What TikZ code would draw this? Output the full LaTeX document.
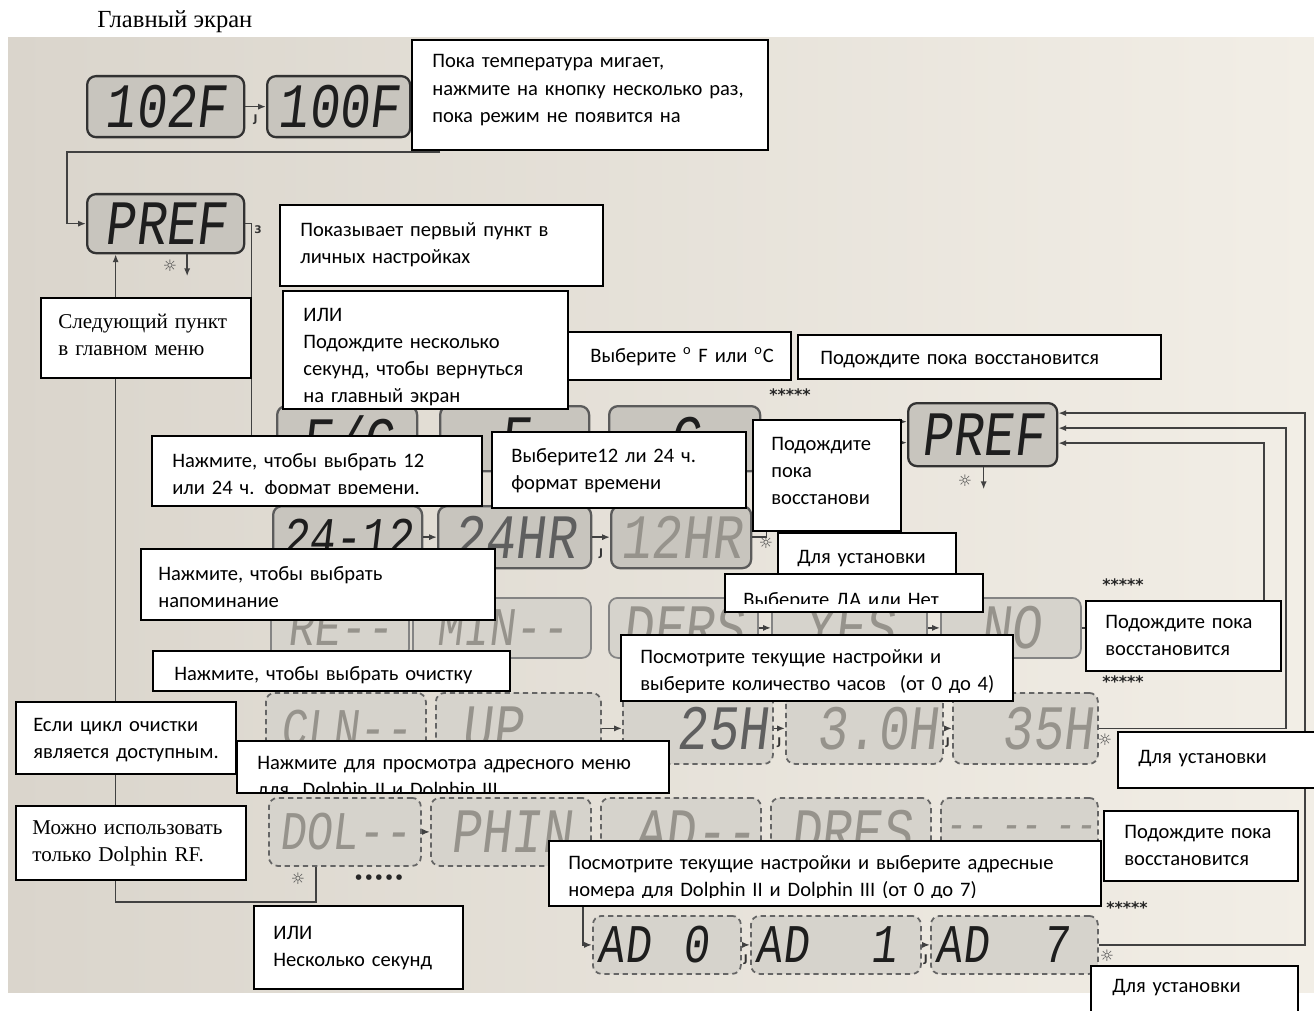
\documentclass[tikz,border=0pt]{standalone}
\usepackage{fontspec}
\setmainfont{Liberation Serif}
\newfontfamily\calibri{Carlito}
\newfontfamily\lcdfont[FakeSlant=0.12,FakeStretch=0.8]{Liberation Mono}
\newfontfamily\symfont{DejaVu Sans}
\usetikzlibrary{arrows.meta}
\definecolor{paper}{RGB}{242,238,230}
\definecolor{paperdark}{RGB}{218,213,204}
\definecolor{lcdgray}{RGB}{200,197,190}
\definecolor{lcdpale}{RGB}{214,211,204}
\definecolor{lcdedge}{RGB}{50,50,50}
\definecolor{segdark}{RGB}{30,30,30}
\definecolor{segmid}{RGB}{95,95,95}
\definecolor{segpale}{RGB}{150,147,140}
\definecolor{wirecol}{RGB}{65,65,65}
\newcommand{\notefont}{\calibri\fontsize{11.7}{15.5}\selectfont}

% display panel: name, x1, y1, x2, y2, extra style, text
\newcommand{\lcdpanel}[7]{%
  \pgfmathsetmacro\panelw{(#4-#2)*0.02}%
  \pgfmathsetmacro\panelh{(#5-#3)*0.02}%
  \pgfmathsetmacro\paneltw{(#4-#2)*0.02-0.2}%
  \node[lcd, #6, minimum width=\panelw cm, minimum height=\panelh cm, text width=\paneltw cm, anchor=north west] (#1) at (#2,#3) {#7};}

% text box: name, x1, y1, x2, y2, text x, first baseline, lowest visible y, text
\newcommand{\callout}[9]{%
  \pgfmathsetmacro\notew{(#4-#2)*0.02}%
  \pgfmathsetmacro\noteh{(#5-#3)*0.02}%
  \pgfmathsetmacro\notetw{(#4-#6)*0.02}%
  \node[note, minimum width=\notew cm, minimum height=\noteh cm, anchor=north west] (#1) at (#2,#3) {};
  \begin{scope}
    \clip (#1.north west) rectangle (#4,#8);
    \node[notetext, text width=\notetw cm] (#1-text) at (#6,#7) {#9};
  \end{scope}}

\begin{document}
\begin{tikzpicture}[x=0.02cm, y=-0.02cm,
    lcd/.style={draw=lcdedge, line width=1.3pt, rounded corners=5pt, fill=lcdgray, inner xsep=0.1cm, inner ysep=0pt, text=segdark, align=center, font=\lcdfont\fontsize{36}{36}\selectfont},
    lcdlight/.style={draw=lcdedge!60, line width=1pt, fill=lcdpale, text=segpale},
    lcddash/.style={draw=lcdedge!75, line width=1pt, dash pattern=on 3pt off 2.2pt, fill=lcdpale, text=segpale},
    small/.style={font=\lcdfont\fontsize{31}{31}\selectfont},
    note/.style={draw=black, line width=0.9pt, fill=white, inner sep=0pt},
    notetext/.style={anchor=base west, inner sep=0pt, align=left, font=\notefont},
    conn/.style={draw=wirecol, line width=0.9pt, -{Latex[length=4.5pt,width=3.5pt]}},
    btnlbl/.style={font=\symfont\bfseries\fontsize{6}{6}\selectfont, text=black!80, inner sep=1pt},
    lamp/.style={font=\symfont\fontsize{9}{9}\selectfont, text=black!70, inner sep=0pt},
    stars/.style={font=\symfont\bfseries\fontsize{9}{9}\selectfont, text=black!85, inner sep=0pt}]
    \useasboundingbox (0,0) rectangle (1314,1010);
    \shade[left color=paperdark, right color=paper] (8,38) rectangle (1314,992);
    \node[anchor=base west, inner sep=0pt, font=\rmfamily\fontsize{14}{14}\selectfont] (title) at (97,28) {Главный экран};

    % Nodes
    \lcdpanel{t102}{86}{75}{243}{136}{}{102F}
    \lcdpanel{t100}{266}{75}{409}{136}{}{100F}
    \lcdpanel{pref}{86}{193}{243}{252}{}{PREF}
    \lcdpanel{fc}{276}{405}{416}{470}{draw=lcdedge!80}{F/C}
    \lcdpanel{degf}{439}{405}{588}{470}{draw=lcdedge!80}{F}
    \lcdpanel{degc}{608}{405}{759}{470}{draw=lcdedge!80}{C}
    \lcdpanel{pref2}{907}{402}{1056}{465}{}{PREF}
    \lcdpanel{hsel}{272}{505}{421}{567}{draw=lcdedge!80, small}{\mbox{24-12}}
    \lcdpanel{hr24}{437}{505}{590}{567}{draw=lcdedge!80, text=segmid}{24HR}
    \lcdpanel{hr12}{610}{505}{750}{567}{draw=lcdedge!80, text=segpale}{12HR}
    \lcdpanel{rem1}{270}{597}{408}{657}{lcdlight, small}{\mbox{RE-{}-}}
    \lcdpanel{rem2}{412}{597}{590}{657}{lcdlight, small}{\mbox{MIN-{}-}}
    \lcdpanel{rem3}{608}{597}{757}{657}{lcdlight}{DERS}
    \lcdpanel{yes}{771}{597}{926}{657}{lcdlight}{YES}
    \lcdpanel{no}{940}{597}{1080}{657}{lcdlight}{NO}
    \lcdpanel{cln}{265}{692}{425}{763}{lcddash, small}{\mbox{CLN-{}-}}
    \lcdpanel{up}{435}{692}{600}{763}{lcddash, align=left}{\ UP}
    \lcdpanel{h25}{622}{692}{772}{763}{lcddash, align=right, text=segmid}{25H}
    \lcdpanel{h30}{785}{692}{942}{763}{lcddash, align=right}{3.0H}
    \lcdpanel{h35}{952}{692}{1097}{763}{lcddash, align=right}{35H}
    \lcdpanel{dol}{268}{797}{420}{865}{lcddash, small}{\mbox{DOL-{}-}}
    \lcdpanel{phin}{430}{797}{590}{865}{lcddash}{PHIN}
    \lcdpanel{adr1}{600}{797}{760}{865}{lcddash, align=right}{\mbox{AD-{}-}}
    \lcdpanel{adr2}{770}{797}{930}{865}{lcddash}{DRES}
    \lcdpanel{blank}{940}{797}{1097}{865}{lcddash, font=\lcdfont\fontsize{24}{24}\selectfont}{\mbox{-{}- -{}- -{}- -{}-}}
    \lcdpanel{ad0}{592}{915}{740}{973}{lcddash, text=segdark, align=left, small}{AD\hfill 0\hspace*{0.5em}}
    \lcdpanel{ad1}{750}{915}{920}{973}{lcddash, text=segdark, align=left, small}{AD\hfill 1\hspace*{0.35em}}
    \lcdpanel{ad7}{930}{915}{1097}{973}{lcddash, text=segdark, align=left, small}{AD\hfill 7\hspace*{0.45em}}

    % Edges
    \draw[conn] (t102) -- (t100) node[btnlbl, midway, below=3pt] (b1) {J};
    \coordinate (topwire) at (440,152);
    \draw[conn] (topwire) -- (67,152) |- (pref.west);
    \draw[conn] (pref.east) -- ++(6,0) |- (fc.west);
    \node[btnlbl] (b2) at (258,230) {3};
    \draw[conn] ([xshift=0.43cm]pref.south) -- ++(0,22);
    \node[lamp] (s1) at (170,266) {☼};
    \draw[conn] ([xshift=-0.58cm]dol.south) -- ++(0,35) -| ([xshift=-1cm]pref.south);
    \node[lamp] (s6) at (298,879) {☼};
    \node[stars] (dots) at (379,879) {•••••};

    \draw[conn] (fc) -- (degf);
    \draw[conn] (degf) -- (degc);
    \draw[conn] (degc.east) -- ++(22,0) |- ([yshift=0.26cm]pref2.west);
    \draw[conn] (hr12.east) -- ++(14,0) |- ([yshift=-0.16cm]pref2.west);
    \node[stars] (st1) at (790,395) {*****};
    \node[lamp] (s2) at (965,481) {☼};
    \draw[conn] ([xshift=0.02cm]pref2.south) -- ++(0,22);

    \draw[conn] (hsel) -- (hr24);
    \draw[conn] (hr24) -- (hr12) node[btnlbl, midway, below=5pt] (b3) {J};
    \node[lamp] (s3) at (766,543) {☼};

    \draw[conn] (rem3) -- (yes);
    \draw[conn] (yes) -- (no);
    \draw[conn] (no.east) -- ++(182,0) |- ([yshift=-0.17cm]pref2.east);
    \node[stars] (st2) at (1123,585) {*****};
    \node[stars] (st3) at (1123,682) {*****};

    \draw[conn] (up) -- (h25);
    \draw[conn] (h25) -- (h30) node[btnlbl, midway, below=4pt] (b4) {J};
    \draw[conn] (h30) -- (h35) node[btnlbl, midway, below=4pt] (b5) {J};
    \node[lamp] (s4) at (1105,740) {☼};
    \draw[conn] (h35.east) -- ++(187,0) |- ([yshift=0.13cm]pref2.east);

    \draw[conn] (dol) -- (phin);
    \coordinate (adentry) at (583,880);
    \draw[conn] (adentry) |- (ad0.west);
    \draw[conn] (ad0) -- (ad1) node[btnlbl, midway, below=4pt] (b6) {J};
    \draw[conn] (ad1) -- (ad7) node[btnlbl, midway, below=4pt] (b7) {J};
    \node[lamp] (s5) at (1107,956) {☼};
    \draw[conn] (ad7.east) -- ++(206,0) |- ([yshift=0.43cm]pref2.east);
    \node[stars] (st4) at (1127,908) {*****};

    % Callouts
    \callout{nA}{411}{39}{767}{149}{432}{68}{149}{Пока температура мигает,\\нажмите на кнопку несколько раз,\\пока режим не появится на}
    \callout{nFirst}{279}{204}{602}{285}{300}{236}{285}{Показывает первый пункт в\\личных настройках}
    \callout{nWait}{282}{290}{567}{408}{303}{321}{406}{ИЛИ\\Подождите несколько\\секунд, чтобы вернуться\\на главный экран}
    \renewcommand{\notefont}{\rmfamily\fontsize{12}{15.5}\selectfont}
    \callout{nNext}{40}{297}{250}{377}{58}{328}{377}{Следующий пункт\\в главном меню}
    \callout{nRF}{15}{805}{245}{879}{32}{834}{879}{Можно использовать\\только Dolphin RF.}
    \renewcommand{\notefont}{\calibri\fontsize{11.7}{15.5}\selectfont}
    \callout{nDeg}{567}{331}{790}{379}{590}{362}{379}{Выберите \textsuperscript{o} F или \textsuperscript{o}C}
    \callout{nRest1}{797}{334}{1160}{378}{820}{364}{378}{Подождите пока восстановится}
    \callout{n1224}{151}{435}{481}{505}{172}{467}{493}{Нажмите, чтобы выбрать 12\\или 24 ч. формат времени.}
    \callout{nFmt}{491}{431}{745}{507}{511}{462}{507}{Выберите12 ли 24 ч.\\формат времени}
    \callout{nRest2}{752}{419}{900}{530}{771}{450}{530}{Подождите\\пока\\восстанови}
    \callout{nSet1}{777}{532}{955}{575}{797}{563}{575}{Для установки}
    \callout{nYesNo}{724}{573}{982}{611}{743}{606}{603}{Выберите ДА или Нет}
    \callout{nRemind}{140}{548}{494}{619}{158}{580}{619}{Нажмите, чтобы выбрать\\напоминание}
    \callout{nRest3}{1085}{600}{1280}{670}{1105}{628}{670}{Подождите пока\\восстановится}
    \callout{nClean}{152}{650}{509}{690}{174}{680}{683}{Нажмите, чтобы выбрать очистку}
    \callout{nHours}{620}{634}{1012}{700}{640}{663}{692}{Посмотрите текущие настройки и\\выберите количество часов\ \ (от 0 до 4)}
    \callout{nCycle}{15}{701}{235}{773}{33}{731}{773}{Если цикл очистки\\является доступным.}
    \callout{nAddr}{236}{740}{668}{792}{257}{769}{792}{Нажмите для просмотра адресного меню\\для\ \ Dolphin II и Dolphin III}
    \callout{nSet2}{1117}{731}{1320}{787}{1138}{763}{787}{Для установки}
    \callout{nRest4}{1103}{810}{1297}{880}{1124}{838}{880}{Подождите пока\\восстановится}
    \callout{nAddr2}{548}{840}{1100}{905}{568}{869}{897}{Посмотрите текущие настройки и выберите адресные\\номера для Dolphin II и Dolphin III (от 0 до 7)}
    \callout{nOr}{253}{905}{462}{988}{273}{939}{988}{ИЛИ\\Несколько секунд}
    \callout{nSet3}{1090}{965}{1297}{1020}{1112}{992}{1020}{Для установки}
\end{tikzpicture}
\end{document}
